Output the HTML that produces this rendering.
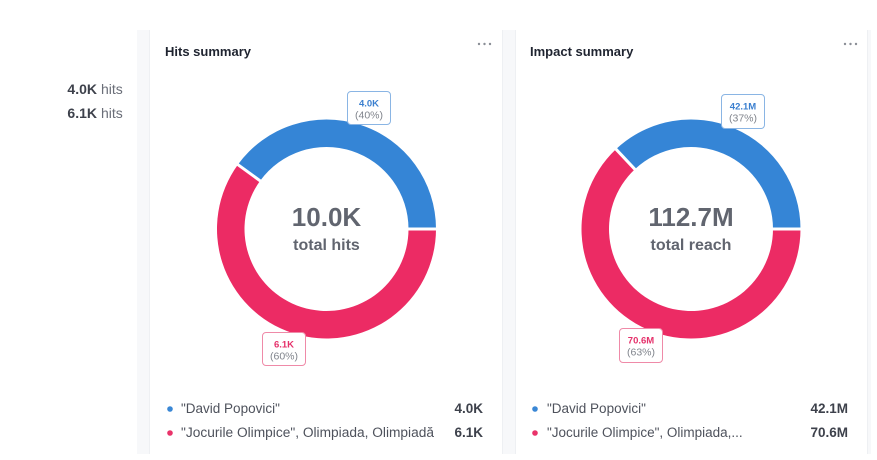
<!DOCTYPE html>
<html><head><meta charset="utf-8">
<style>
html,body{margin:0;padding:0;background:#fff;}
body{width:877px;height:460px;position:relative;overflow:hidden;font-family:"Liberation Sans",Arial,sans-serif;}
.strip{position:absolute;top:30px;height:424px;background:#f7f8fa;}
.abs{position:absolute;white-space:nowrap;}
</style></head>
<body>
<div class="strip" style="left:137px;width:13px;border-right:1px solid #eef0f3;box-sizing:border-box;"></div>
<div class="strip" style="left:502px;width:14px;border-left:1px solid #eef0f3;border-right:1px solid #eef0f3;box-sizing:border-box;"></div>
<div class="strip" style="left:867px;width:4px;border-left:1px solid #eef0f3;box-sizing:border-box;"></div>

<svg width="877" height="460" style="position:absolute;left:0;top:0" xmlns="http://www.w3.org/2000/svg">
  <g font-family="Liberation Sans, Arial, sans-serif">
    <!-- left labels -->
    <text x="97" y="94" text-anchor="end" font-size="14" font-weight="bold" fill="#3d414b">4.0K</text>
    <text x="101" y="94" font-size="14" fill="#6a6e78">hits</text>
    <text x="97" y="118" text-anchor="end" font-size="14" font-weight="bold" fill="#3d414b">6.1K</text>
    <text x="101" y="118" font-size="14" fill="#6a6e78">hits</text>

    <!-- titles -->
    <text x="165" y="56" font-size="13" font-weight="bold" fill="#1f2430">Hits summary</text>
    <text x="530" y="56" font-size="13" font-weight="bold" fill="#1f2430">Impact summary</text>
    <g fill="#8a8e96">
      <circle cx="479" cy="44" r="1.2"/><circle cx="484.5" cy="44" r="1.2"/><circle cx="490" cy="44" r="1.2"/>
      <circle cx="845" cy="44" r="1.2"/><circle cx="850.5" cy="44" r="1.2"/><circle cx="856" cy="44" r="1.2"/>
    </g>

    <!-- donut 1 -->
    <path d="M436,229 A109.5,109.5 0 0 0 237.91,164.61 L260.16,180.78 A82,82 0 0 1 408.5,229 Z" fill="#3585d6"/>
    <path d="M237.91,164.61 A109.5,109.5 0 1 0 436,229 L408.5,229 A82,82 0 1 1 260.16,180.78 Z" fill="#ec2b64"/>
    <line x1="406" y1="229" x2="440" y2="229" stroke="#fff" stroke-width="3"/>
    <line x1="262.2" y1="182.3" x2="234.7" y2="162.3" stroke="#fff" stroke-width="3"/>
    <text x="326.5" y="226" text-anchor="middle" font-size="26" font-weight="bold" fill="#61656f">10.0K</text>
    <text x="326.5" y="250" text-anchor="middle" font-size="16" font-weight="bold" fill="#61656f">total hits</text>

    <rect x="347.5" y="91.5" width="43" height="33" rx="3.5" fill="#fff" stroke="#8ab5e4" stroke-width="1"/>
    <text x="369" y="106.5" text-anchor="middle" font-size="9.5" font-weight="bold" fill="#3a7fcf">4.0K</text>
    <text x="369" y="118.5" text-anchor="middle" font-size="10.5" fill="#80848c">(40%)</text>

    <rect x="262.5" y="332.5" width="43" height="33" rx="3.5" fill="#fff" stroke="#ef8aa8" stroke-width="1"/>
    <text x="284" y="347.5" text-anchor="middle" font-size="9.5" font-weight="bold" fill="#e5306a">6.1K</text>
    <text x="284" y="359.5" text-anchor="middle" font-size="10.5" fill="#80848c">(60%)</text>

    <!-- donut 2 -->
    <path d="M800.5,229 A109.5,109.5 0 0 0 616.05,149.17 L634.87,169.22 A82,82 0 0 1 773,229 Z" fill="#3585d6"/>
    <path d="M616.05,149.17 A109.5,109.5 0 1 0 800.5,229 L773,229 A82,82 0 1 1 634.87,169.22 Z" fill="#ec2b64"/>
    <line x1="770" y1="229" x2="805" y2="229" stroke="#fff" stroke-width="3"/>
    <line x1="636.2" y1="170.7" x2="613.3" y2="146.3" stroke="#fff" stroke-width="3"/>
    <text x="691" y="226" text-anchor="middle" font-size="26" font-weight="bold" fill="#61656f">112.7M</text>
    <text x="691" y="250" text-anchor="middle" font-size="16" font-weight="bold" fill="#61656f">total reach</text>

    <rect x="721.5" y="94.5" width="43" height="34" rx="3.5" fill="#fff" stroke="#8ab5e4" stroke-width="1"/>
    <text x="743" y="109.5" text-anchor="middle" font-size="9.5" font-weight="bold" fill="#3a7fcf">42.1M</text>
    <text x="743" y="121.5" text-anchor="middle" font-size="10.5" fill="#80848c">(37%)</text>

    <rect x="619.5" y="328.5" width="43" height="34" rx="3.5" fill="#fff" stroke="#ef8aa8" stroke-width="1"/>
    <text x="641" y="343.5" text-anchor="middle" font-size="9.5" font-weight="bold" fill="#e5306a">70.6M</text>
    <text x="641" y="355.5" text-anchor="middle" font-size="10.5" fill="#80848c">(63%)</text>

    <!-- legend 1 -->
    <circle cx="170" cy="409" r="2.8" fill="#3a87d5"/>
    <text x="181" y="413" font-size="13.5" fill="#4e525c">"David Popovici"</text>
    <text x="483" y="413" text-anchor="end" font-size="13.5" font-weight="bold" fill="#3d414b">4.0K</text>
    <circle cx="170" cy="433" r="2.8" fill="#e9336a"/>
    <text x="181" y="437" font-size="13.5" fill="#4e525c" textLength="253" lengthAdjust="spacingAndGlyphs">"Jocurile Olimpice", Olimpiada, Olimpiadă</text>
    <text x="483" y="437" text-anchor="end" font-size="13.5" font-weight="bold" fill="#3d414b">6.1K</text>

    <!-- legend 2 -->
    <circle cx="535" cy="409" r="2.8" fill="#3a87d5"/>
    <text x="547" y="413" font-size="13.5" fill="#4e525c">"David Popovici"</text>
    <text x="848" y="413" text-anchor="end" font-size="13.5" font-weight="bold" fill="#3d414b">42.1M</text>
    <circle cx="535" cy="433" r="2.8" fill="#e9336a"/>
    <text x="547" y="437" font-size="13.5" fill="#4e525c">"Jocurile Olimpice", Olimpiada,...</text>
    <text x="848" y="437" text-anchor="end" font-size="13.5" font-weight="bold" fill="#3d414b">70.6M</text>
  </g>
</svg>
</body></html>
